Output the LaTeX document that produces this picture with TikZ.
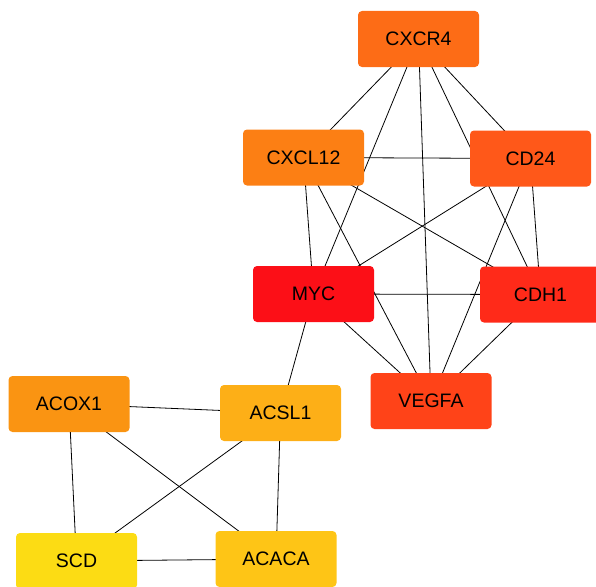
\documentclass[tikz,border=0pt]{standalone}
\usepackage{fontspec}
\setmainfont{Liberation Sans}
\usetikzlibrary{backgrounds}
\definecolor{cxcrfour}{HTML}{FD6C16}
\definecolor{cxcltwelve}{HTML}{FC7F14}
\definecolor{cdtwentyfour}{HTML}{FF5819}
\definecolor{myc}{HTML}{FC0F17}
\definecolor{cdhone}{HTML}{FF2A19}
\definecolor{vegfa}{HTML}{FF4318}
\definecolor{acslone}{HTML}{FDAF17}
\definecolor{acoxone}{HTML}{FA9412}
\definecolor{scd}{HTML}{FCDC14}
\definecolor{acaca}{HTML}{FEC516}
\tikzset{
    gene/.style={rectangle, rounded corners=4pt, minimum width=121pt,
        minimum height=56pt, inner sep=0pt,
        font=\fontsize{19.5}{20}\selectfont},
    link/.style={black, line width=0.8pt},
}

\begin{document}
\begin{tikzpicture}[x=1pt, y=-1pt]
        \useasboundingbox (0, 0) rectangle (596, 586);
        \clip (0, 0) rectangle (596, 586);
        % Hub cluster
        \node[gene, fill=cxcrfour] (CXCR4) at (418.5, 39) {CXCR4};
        \node[gene, fill=cxcltwelve] (CXCL12) at (303.5, 157.5) {CXCL12};
        \node[gene, fill=cdtwentyfour] (CD24) at (530.5, 158.5) {CD24};
        \node[gene, fill=myc] (MYC) at (313.5, 294) {MYC};
        \node[gene, fill=cdhone] (CDH1) at (540.5, 294.5) {CDH1};
        \node[gene, fill=vegfa] (VEGFA) at (431, 401) {VEGFA};
        % Lipid cluster
        \node[gene, fill=acslone] (ACSL1) at (280.5, 413) {ACSL1};
        \node[gene, fill=acoxone] (ACOX1) at (69, 404) {ACOX1};
        \node[gene, fill=scd] (SCD) at (76.5, 561) {SCD};
        \node[gene, fill=acaca] (ACACA) at (276, 559) {ACACA};
        \begin{scope}[on background layer]
            \foreach \a/\b in {CXCR4/CXCL12, CXCR4/MYC, CXCR4/VEGFA,
                CXCR4/CDH1, CXCR4/CD24, CXCL12/CD24, CXCL12/MYC,
                CXCL12/VEGFA, CXCL12/CDH1, CD24/MYC, CD24/VEGFA,
                CD24/CDH1, MYC/CDH1, MYC/VEGFA, CDH1/VEGFA}{
                \draw[link] (\a.center) -- (\b.center); % Hub edges
            }
            \draw[link] (MYC.center) -- (ACSL1.center); % Bridge
            \foreach \a/\b in {ACOX1/ACSL1, ACOX1/SCD, ACOX1/ACACA,
                ACSL1/SCD, ACSL1/ACACA, SCD/ACACA}{
                \draw[link] (\a.center) -- (\b.center); % Lipid edges
            }
        \end{scope}
    \end{tikzpicture}
\end{document}
